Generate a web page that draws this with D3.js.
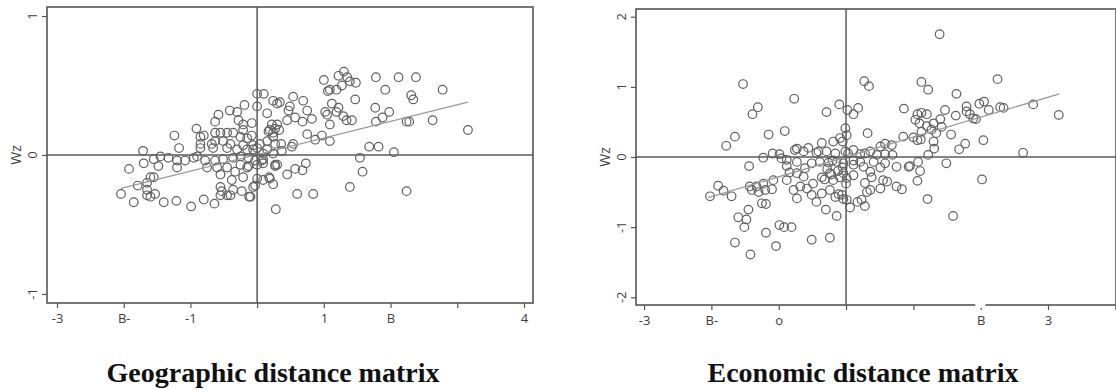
<!DOCTYPE html>
<html><head><meta charset="utf-8">
<script src="https://cdn.jsdelivr.net/npm/d3@7"></script>
<style>body{margin:0;background:#fff}svg{display:block}</style>
</head><body>
<svg id="chart" width="1116" height="390"></svg>
<script>
// ---------- data ----------
const geoTitle = "Geographic distance matrix";
const ecoTitle = "Economic distance matrix";
const yAxisLabel = "Wz";

const geoXTicks = [-3, -2, -1, 0, 1, 2, 3, 4];
const geoXTickLabels = ["-3", "B-", "-1", "", "1", "B", "", "4"];
const geoYTicks = [-1, 0, 1];
const geoYTickLabels = ["-1", "0", "1"];

const ecoXTicks = [-3, -2, -1, 0, 1, 2, 3, 4];
const ecoXTickLabels = ["-3", "B-", "o", "", "", "B", "3", ""];
const ecoYTicks = [-2, -1, 0, 1, 2];
const ecoYTickLabels = ["-2", "-1", "0", "1", "2"];

const geoFit = [[-2.04, -0.24], [3.16, 0.38]];
const ecoFit = [[-2.05, -0.58], [3.17, 0.90]];

const geoPoints = [
[0.00,0.44],[0.10,0.44],[0.24,0.39],[0.30,0.37],[-0.19,0.36],[0.00,0.35],[0.15,0.30],[-0.41,0.32],[-0.30,0.31],[-0.58,0.29],[-0.63,0.24],[-0.28,0.25],[-0.21,0.22],[-0.08,0.23],[-0.91,0.19],[0.19,0.18],[0.30,0.22],[-1.24,0.14],
[-0.85,0.13],[-0.80,0.14],[-0.63,0.16],[-0.55,0.16],[-0.45,0.16],[-0.36,0.16],
[-0.85,0.08],[-0.68,0.08],[-0.63,0.10],[-0.51,0.10],[-0.40,0.08],
[-0.25,0.13],[-0.15,0.12],[-0.08,0.14],[-0.21,0.07],[-0.06,0.07],[0.04,0.08],[0.15,0.10],[0.24,0.16],[0.27,0.08],
[-1.17,0.05],[-1.71,0.03],
[-0.85,0.05],[-0.66,0.05],[-0.45,0.05],[-0.30,0.04],[-0.15,0.04],[0.00,0.05],[0.15,0.04],
[-1.70,-0.06],[-1.55,-0.03],[-1.45,-0.01],[-1.33,-0.02],[-1.20,-0.04],[-1.08,-0.04],[-0.95,-0.02],[-0.90,-0.01],[-0.78,-0.04],[-0.63,-0.04],[-0.51,-0.03],[-0.36,-0.02],[-0.25,-0.01],[-0.13,-0.02],[-0.03,-0.04],[0.09,-0.03],[0.24,0.01],
[-1.92,-0.10],[-1.48,-0.08],[-1.20,-0.09],[-0.75,-0.09],[-0.60,-0.09],[-0.45,-0.09],[-0.25,-0.07],[-0.15,-0.09],[0.00,-0.07],[0.09,-0.06],[0.27,-0.07],
[-0.55,-0.14],[-0.33,-0.12],[-0.38,-0.18],[-0.21,-0.16],
[-1.60,-0.16],[-1.55,-0.16],[-1.65,-0.20],[-1.79,-0.22],[-1.65,-0.25],[-1.53,-0.28],[-1.60,-0.30],[-2.04,-0.28],[-1.85,-0.34],[-1.65,-0.29],
[-1.40,-0.34],[-1.21,-0.33],[-0.99,-0.37],
[-0.80,-0.32],[-0.64,-0.35],[-0.55,-0.29],[-0.55,-0.23],[-0.53,-0.26],[-0.45,-0.29],[-0.40,-0.29],[-0.36,-0.25],[-0.23,-0.26],[-0.12,-0.30],
[-0.06,-0.23],[0.00,-0.17],[0.09,-0.18],[0.19,-0.17],[0.24,-0.21],[0.28,-0.39],
[1.30,0.60],[1.22,0.57],[1.35,0.56],[1.39,0.53],[1.48,0.52],[1.00,0.54],
[1.78,0.56],[2.12,0.56],[2.38,0.56],[2.78,0.47],[1.92,0.47],[2.31,0.43],[2.34,0.40],[1.47,0.40],
[1.06,0.46],[1.09,0.47],[1.19,0.47],[1.27,0.50],
[1.12,0.37],[1.22,0.34],[1.19,0.31],[1.02,0.31],[1.05,0.29],
[1.77,0.34],[1.98,0.31],[1.88,0.27],[1.78,0.24],[1.29,0.28],[1.34,0.25],[1.42,0.25],[1.09,0.22],
[2.24,0.24],[2.28,0.24],[2.63,0.25],[3.16,0.18],
[1.68,0.06],[1.82,0.06],[2.05,0.02],
[1.54,-0.02],[1.58,-0.12],[1.39,-0.23],[2.24,-0.26],
[0.54,0.42],[0.69,0.39],[0.75,0.32],[0.82,0.26],[0.68,0.24],[0.57,0.27],[0.45,0.25],[0.47,0.32],[0.49,0.35],[0.34,0.38],
[0.97,0.14],[1.09,0.10],[0.87,0.11],[0.75,0.15],[0.54,0.08],[0.52,0.06],[0.36,0.08],[0.37,0.03],[0.09,0.01],[0.27,0.19],[0.33,0.18],[0.22,0.22],[0.17,0.17],[0.24,0.13],
[0.07,-0.04],[0.27,-0.08],[0.30,-0.07],[0.45,-0.14],[0.57,-0.10],[0.68,-0.11],[0.73,-0.06],[0.18,-0.16],[-0.03,-0.22],[-0.10,-0.30],[0.60,-0.28],[0.84,-0.28],[-0.13,-0.08],
[-0.21,0.18],[-0.06,0.04]
];

const ecoPoints = [
[-1.53,1.04],[-0.77,0.83],[-1.31,0.71],[-1.39,0.61],[-1.65,0.29],[-1.78,0.16],[-1.15,0.32],[-0.91,0.37],[-0.29,0.64],[-0.10,0.75],[-1.44,-0.13],
[-1.23,-0.01],[-1.09,0.05],[-0.99,0.04],[-0.96,-0.02],
[-0.73,0.12],[-0.56,0.13],[-0.41,0.08],[-0.36,0.20],[-0.29,0.08],[-0.19,0.22],[-0.09,0.27],
[-1.90,-0.41],[-1.82,-0.48],[-1.70,-0.56],[-2.02,-0.56],
[0.02,0.67],[0.11,0.61],[0.18,0.70],
[-0.01,0.41],[0.01,0.31],[-0.05,0.22],
[-0.88,-0.04],[-0.76,0.10],[-0.63,0.08],[-0.44,0.06],[-0.16,0.05],[-0.01,0.08],[0.11,0.10],
[-0.88,-0.13],[-0.73,-0.07],[-0.84,-0.22],[-0.61,-0.16],[-0.51,-0.09],[-0.39,-0.07],[-0.26,-0.08],[-0.14,-0.07],[-0.04,-0.09],[0.11,-0.11],
[-1.08,-0.33],[-1.23,-0.38],[-1.33,-0.42],[-1.43,-0.42],[-1.40,-0.47],[-1.30,-0.50],[-1.20,-0.47],[-1.10,-0.46],
[-0.88,-0.33],[-0.73,-0.23],[-0.63,-0.28],[-0.68,-0.42],[-0.58,-0.45],[-0.49,-0.38],[-0.36,-0.29],[-0.24,-0.23],[-0.19,-0.33],[-0.09,-0.29],[0.01,-0.30],[0.11,-0.26],
[-0.78,-0.47],[-0.73,-0.59],[-0.51,-0.54],[-0.44,-0.64],[-0.36,-0.52],[-0.24,-0.47],[-0.16,-0.57],[-0.06,-0.54],[0.01,-0.61],[0.06,-0.72],[0.17,-0.64],
[-1.25,-0.66],[-1.19,-0.67],
[-1.45,-0.75],[-1.60,-0.86],[-1.48,-0.89],[-1.51,-1.00],
[-0.30,-0.75],[-0.14,-0.84],
[-0.99,-0.97],[-0.92,-1.00],[-0.81,-1.00],
[-1.19,-1.08],[-1.65,-1.22],[-1.04,-1.27],[-1.42,-1.39],
[-0.51,-1.18],[-0.24,-1.15],
[0.27,1.08],[0.34,1.01],[1.12,1.07],[1.22,0.96],[1.39,1.75],[2.25,1.11],[1.64,0.90],
[0.86,0.69],[1.03,0.53],[1.06,0.61],[1.12,0.63],[1.20,0.61],[1.09,0.48],[1.20,0.44],[1.30,0.48],[1.40,0.54],[1.47,0.67],[1.42,0.43],[1.27,0.39],[1.34,0.34],[1.12,0.36],
[1.63,0.59],[1.79,0.72],[1.79,0.65],[1.84,0.61],[1.89,0.55],[1.93,0.54],[1.98,0.76],[2.05,0.79],[2.12,0.67],[2.29,0.71],[2.34,0.70],
[2.78,0.75],[3.16,0.60],[2.63,0.06],[2.02,-0.32],
[0.32,0.34],[0.85,0.29],[1.00,0.28],[1.06,0.24],[1.11,0.25],[1.30,0.22],[1.31,0.12],[1.56,0.32],[1.68,0.11],[1.77,0.19],[2.04,0.24],
[0.51,0.15],[0.58,0.19],[0.68,0.17],[0.69,0.03],[0.58,0.04],[0.46,0.03],[0.36,0.08],[0.28,0.05],[0.21,0.04],[0.03,0.05],
[1.22,0.03],[1.49,-0.09],[1.07,-0.07],[0.95,-0.13],[0.93,-0.14],[0.75,-0.14],[1.10,-0.20],[1.06,-0.34],[1.21,-0.60],[1.59,-0.84],
[0.58,-0.09],[0.51,-0.15],[0.41,-0.07],[0.36,-0.21],[0.26,-0.14],[0.21,-0.07],[0.11,-0.05],
[0.38,-0.29],[0.28,-0.37],[0.55,-0.33],[0.61,-0.35],[0.51,-0.45],[0.75,-0.42],[0.83,-0.46],[0.36,-0.47],[0.31,-0.50],[0.23,-0.61],[0.28,-0.70],[-0.04,-0.60],[-0.11,-0.53],
[-0.28,-0.17],[-0.22,-0.25],[-0.12,-0.20],[-0.04,-0.23],[-0.32,-0.32],[-0.20,-0.05],[-0.05,-0.15],[0.00,-0.38]
];

// ---------- drawing ----------
const svg = d3.select("#chart");
const ink = "#3e3e3e";
const circleColor = "#616161";
const tickFont = "'Open Sans', 'DejaVu Sans', sans-serif";

function panel(cfg) {
  const x = d3.scaleLinear().domain(cfg.xDomain).range([cfg.left, cfg.right]);
  const y = d3.scaleLinear().domain(cfg.yDomain).range([cfg.bottom, cfg.top]);
  const g = svg.append("g");

  // points
  g.append("g").selectAll("circle").data(cfg.points).join("circle")
    .attr("cx", d => x(d[0])).attr("cy", d => y(d[1])).attr("r", 4.3)
    .attr("fill", "none").attr("stroke", circleColor).attr("stroke-width", 1.2);

  // fit line
  g.append("line")
    .attr("x1", x(cfg.fit[0][0])).attr("y1", y(cfg.fit[0][1]))
    .attr("x2", x(cfg.fit[1][0])).attr("y2", y(cfg.fit[1][1]))
    .attr("stroke", "#9a9a9a").attr("stroke-width", 1.3);

  // zero reference lines
  g.append("line").attr("x1", cfg.left).attr("x2", cfg.right).attr("y1", y(0)).attr("y2", y(0))
    .attr("stroke", "#5a5a5a").attr("stroke-width", 1.5);
  g.append("line").attr("x1", x(0)).attr("x2", x(0)).attr("y1", cfg.top).attr("y2", cfg.bottom)
    .attr("stroke", "#5a5a5a").attr("stroke-width", 1.5);

  // frame
  g.append("rect").attr("x", cfg.left).attr("y", cfg.top)
    .attr("width", cfg.right - cfg.left).attr("height", cfg.bottom - cfg.top)
    .attr("fill", "none").attr("stroke", "#555").attr("stroke-width", 1.6);

  // x axis
  const xa = g.append("g").attr("transform", `translate(0,${cfg.bottom})`)
    .call(d3.axisBottom(x).tickValues(cfg.xTicks).tickSize(5).tickPadding(6)
      .tickFormat((d, i) => cfg.xLabels[i]));
  xa.select(".domain").remove();
  xa.selectAll(".tick line").attr("stroke", "#555").attr("stroke-width", 1.2);
  xa.selectAll(".tick text").attr("fill", ink).style("font-family", tickFont).style("font-size", "13px");

  // y axis
  const ya = g.append("g").attr("transform", `translate(${cfg.left},0)`)
    .call(d3.axisLeft(y).tickValues(cfg.yTicks).tickSize(5).tickFormat(() => ""));
  ya.select(".domain").remove();
  ya.selectAll(".tick line").attr("stroke", "#555").attr("stroke-width", 1.2);
  g.append("g").selectAll("text").data(cfg.yTicks).join("text")
    .attr("transform", d => `translate(${cfg.left - 10},${y(d)}) rotate(-90)`)
    .attr("text-anchor", "middle")
    .attr("fill", ink).style("font-family", tickFont).style("font-size", "13px")
    .text((d, i) => cfg.yLabels[i]);
  g.append("text")
    .attr("transform", `translate(${cfg.left - 26},${y(0)}) rotate(-90)`)
    .attr("text-anchor", "middle")
    .attr("fill", ink).style("font-family", tickFont).style("font-size", "14px")
    .text(yAxisLabel);

  if (cfg.gap) {
    g.append("rect").attr("x", x(cfg.gap[0])).attr("y", cfg.bottom - 2)
      .attr("width", x(cfg.gap[1]) - x(cfg.gap[0])).attr("height", 5).attr("fill", "#fff");
  }

  // title
  g.append("text").attr("x", cfg.titleX).attr("y", 382).attr("text-anchor", "middle")
    .style("font-family", "'Liberation Serif', 'DejaVu Serif', serif").style("font-weight", "bold")
    .style("font-size", "28px").attr("fill", "#111").text(cfg.title);
}

panel({
  points: geoPoints, fit: geoFit, title: geoTitle, titleX: 273,
  xDomain: [-3.15, 4.135], yDomain: [-1.065, 1.065],
  left: 47, right: 533, top: 7, bottom: 303,
  xTicks: geoXTicks, xLabels: geoXTickLabels, yTicks: geoYTicks, yLabels: geoYTickLabels
});
panel({
  points: ecoPoints, fit: ecoFit, title: ecoTitle, titleX: 863,
  xDomain: [-3.12, 4.01], yDomain: [-2.11, 2.11],
  left: 636, right: 1116, top: 9, bottom: 305,
  xTicks: ecoXTicks, xLabels: ecoXTickLabels, yTicks: ecoYTicks, yLabels: ecoYTickLabels,
  gap: [1.92, 2.07]
});
</script>
</body></html>
